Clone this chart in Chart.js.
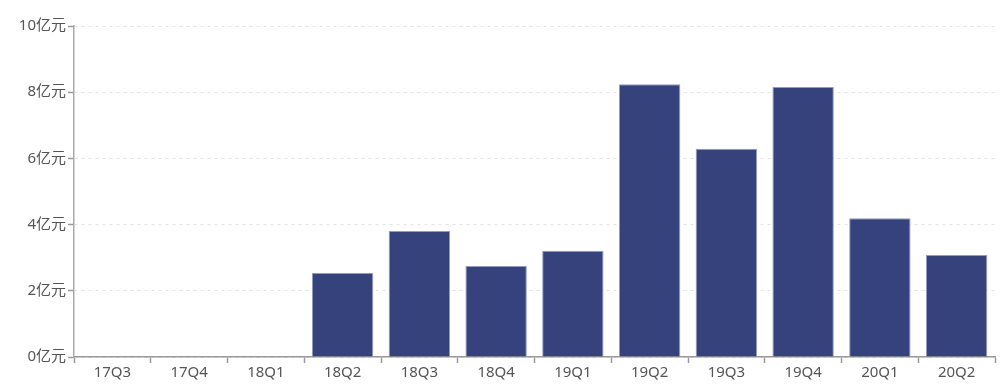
<!DOCTYPE html>
<html><head><meta charset="utf-8">
<script src="https://cdn.jsdelivr.net/npm/chart.js@4"></script>
<style>html,body{margin:0;padding:0;background:#fff}#wrap{width:1008px;height:384px}</style>
</head><body><div id="wrap"><canvas id="c" width="1008" height="384"></canvas></div>
<script>
const categories = ["17Q3","17Q4","18Q1","18Q2","18Q3","18Q4","19Q1","19Q2","19Q3","19Q4","20Q1","20Q2"];
const values = [null,null,null,2.54,3.81,2.75,3.21,8.24,6.29,8.16,4.19,3.08];
const yTicks = [0,2,4,6,8,10];
const unit = "亿元";
const font = {family: "'Noto Sans','Noto Sans CJK SC',sans-serif", size: 15};
new Chart(document.getElementById('c'), {
  type: 'bar',
  data: {labels: categories, datasets: [{data: values, backgroundColor: '#36427c', borderColor: 'rgba(120,130,180,0.8)', borderWidth: 1, barPercentage: 0.8, categoryPercentage: 1.0}]},
  options: {
    responsive: false, animation: false,
    layout: {padding: {top: 26, right: 13, left: 0, bottom: 0}},
    plugins: {legend: {display: false}, tooltip: {enabled: false}},
    scales: {
      x: {
        grid: {drawOnChartArea: false, offset: true, tickLength: 6, tickColor: '#999', tickWidth: 1.5},
        border: {color: '#999', width: 1.5},
        ticks: {color: '#555', font: font, padding: 1, maxRotation: 0},
        afterFit: s => { s.height = 27; }
      },
      y: {
        min: 0, max: 10,
        afterBuildTicks: s => { s.ticks = yTicks.map(v => ({value: v})); },
        grid: {color: '#e3e3e3', tickLength: 6, tickColor: '#999', tickWidth: 1.5},
        border: {color: '#aaa', width: 1.5, dash: [3,4]},
        ticks: {color: '#555', font: font, padding: 2, callback: v => v + unit},
        afterFit: s => { s.width = 74; }
      }
    }
  }
});
</script></body></html>
